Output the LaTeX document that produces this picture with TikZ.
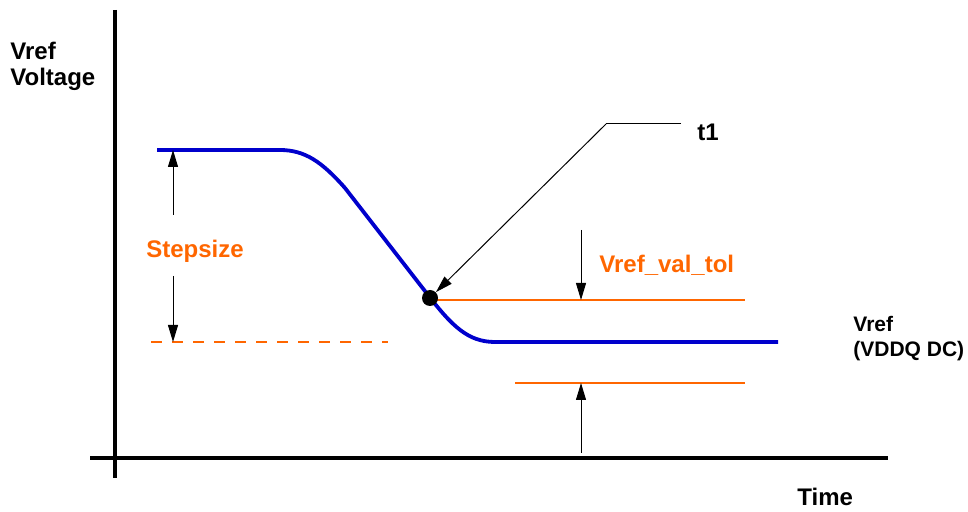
\documentclass[tikz,border=0pt]{standalone}
\usepackage{fontspec}
\setmainfont{Liberation Sans}
\definecolor{vblue}{RGB}{0,0,204}
\definecolor{vorange}{RGB}{255,102,0}
\usetikzlibrary{arrows.meta,positioning}

\begin{document}
\begin{tikzpicture}[x=0.5pt, y=-0.5pt,
    lbl/.style={font=\fontsize{12}{13}\selectfont\bfseries, inner sep=0pt, align=left},
    olbl/.style={lbl, text=vorange},
    dimarrow/.style={-{Triangle[length=8.5pt,width=5pt]}, line width=0.5pt},
    tolline/.style={vorange, line width=1.4pt}]
  \useasboundingbox (0,0) rectangle (968,512);

  % Axes
  \draw[line width=2.4pt] (115,10) -- (115,478);
  \draw[line width=2.4pt] (90,458) -- (888,458);
  \node[lbl, anchor=west] (ylabel) at (10,66) {Vref\\Voltage};
  \node[lbl, anchor=west] (xlabel) at (797,497) {Time};

  % Vref step response
  \draw[vblue, line width=1.9pt] (157,150) -- (280,150)
    .. controls (305,150) and (322,162) .. (345,188) -- (428,295)
    .. controls (452,326) and (468,342) .. (495,342) -- (778,342);
  \node[lbl, anchor=north west, font=\fontsize{10.5}{12.5}\selectfont\bfseries] (vdc) at (853,316) {Vref\\(VDDQ DC)};

  % Start level (dashed)
  \draw[tolline, dash pattern=on 5.5pt off 5pt] (151,342) -- (388,342);

  % Tolerance band
  \draw[tolline] (430,300) -- (745,300);
  \draw[tolline] (515,383) -- (745,383);
  \node[olbl, anchor=west] (tol) at (599,265) {Vref\_val\_tol};

  % Stepsize
  \node[olbl] (step) at (195,251) {Stepsize};
  \coordinate (stop) at (173,150);
  \coordinate (sbot) at (173,342);
  \draw[dimarrow] (173,215) -- (stop);
  \draw[dimarrow] (173,276) -- (sbot);

  % Tolerance arrows
  \coordinate (tolhi) at (581,300);
  \coordinate (tollo) at (581,383);
  \draw[dimarrow] (581,230) -- (tolhi);
  \draw[dimarrow] (581,453) -- (tollo);

  % t1 marker
  \node[circle, fill=black, inner sep=0pt, minimum size=8pt] (t1pt) at (430,298) {};
  \node[lbl, anchor=west] (t1) at (697,132) {t1};
  \coordinate (t1end) at (681,124);
  \coordinate (t1bend) at (606,124);
  \draw[line width=0.5pt] (t1end) -- (t1bend);
  \draw[dimarrow] (t1bend) -- (t1pt);
\end{tikzpicture}
\end{document}
